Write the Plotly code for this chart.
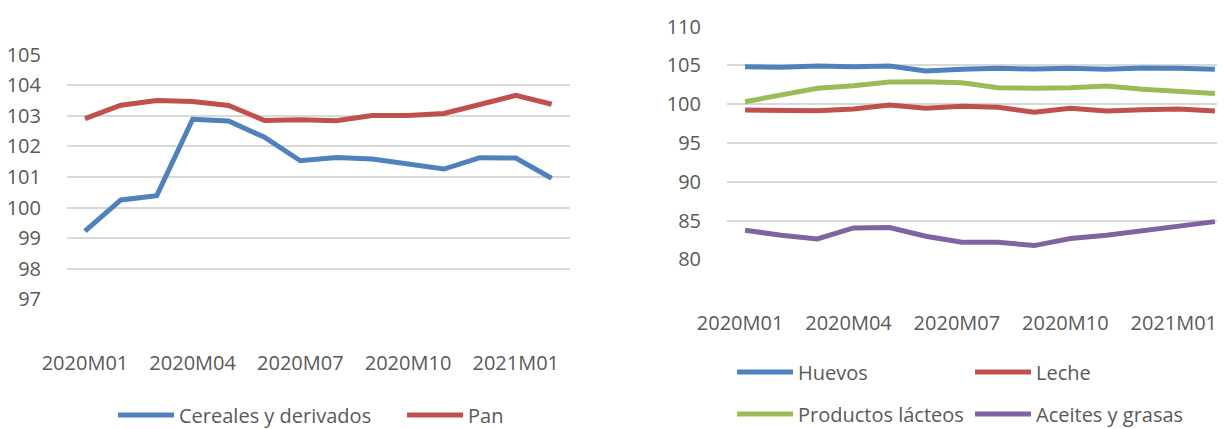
import plotly.graph_objects as go

months = ["2020M01", "2020M02", "2020M03", "2020M04", "2020M05", "2020M06", "2020M07",
          "2020M08", "2020M09", "2020M10", "2020M11", "2020M12", "2021M01", "2021M02"]
tick_labels = ["2020M01", "2020M04", "2020M07", "2020M10", "2021M01"]

cereales = [99.23, 100.25, 100.39, 102.89, 102.83, 102.30, 101.53, 101.64, 101.59,
            101.43, 101.26, 101.63, 101.62, 100.96]
pan = [102.91, 103.35, 103.50, 103.47, 103.34, 102.85, 102.87, 102.84, 103.01,
       103.01, 103.08, 103.37, 103.67, 103.38]

huevos = [104.84, 104.76, 104.93, 104.84, 104.93, 104.28, 104.50, 104.63, 104.54,
          104.63, 104.50, 104.67, 104.63, 104.50]
leche = [99.26, 99.26, 99.17, 99.39, 99.90, 99.47, 99.73, 99.60, 98.96,
         99.47, 99.13, 99.30, 99.39, 99.13]
lacteos = [100.33, 101.19, 102.05, 102.39, 102.87, 102.91, 102.78, 102.14, 102.05,
           102.14, 102.35, 101.92, 101.58, 101.40]
aceites = [83.74, 83.10, 82.63, 84.04, 84.09, 82.97, 82.20, 82.20, 81.77,
           82.67, 83.10, 83.70, 84.30, 84.86]

BLUE, RED, GREEN, PURPLE = "#4F81BD", "#C0504D", "#9BBB59", "#8064A2"
TEXT = "#595959"
GRID = "#D9D9D9"
FONT = "Open Sans"
# page body has an 8px default margin, so the figure is drawn 8px smaller
OFF = 8
W, H = 1225 - OFF, 429 - OFF

def px_x(p):
    return (p - OFF) / W

def px_y(p):
    return (H - (p - OFF)) / H

fig = go.Figure()

def add(x, y, name, color, xa, ya, legend):
    fig.add_trace(go.Scatter(x=x, y=y, name=name, mode="lines",
                             line=dict(color=color, width=5),
                             xaxis=xa, yaxis=ya, legend=legend))

add(months, cereales, "Cereales y derivados", BLUE, "x", "y", "legend")
add(months, pan, "Pan", RED, "x", "y", "legend")
add(months, huevos, "Huevos", BLUE, "x2", "y2", "legend2")
add(months, leche, "Leche", RED, "x2", "y2", "legend2")
add(months, lacteos, "Productos lácteos", GREEN, "x2", "y2", "legend3")
add(months, aceites, "Aceites y grasas", PURPLE, "x2", "y2", "legend3")

tf = dict(family=FONT, size=20, color=TEXT)

xcommon = dict(type="category", categoryorder="array", categoryarray=months,
               tickmode="array", tickvals=tick_labels, ticktext=tick_labels,
               showgrid=False, zeroline=False, showline=False, automargin=False,
               ticks="outside", ticklen=46, tickcolor="rgba(0,0,0,0)",
               tickfont=tf)
ycommon = dict(showgrid=True, gridcolor=GRID, gridwidth=1.5, zeroline=False,
               showline=False, ticks="outside", ticklen=21, automargin=False,
               tickcolor="rgba(0,0,0,0)", tickfont=tf)

legcommon = dict(orientation="h", xanchor="left", yanchor="middle",
                 font=tf, bgcolor="rgba(0,0,0,0)", entrywidthmode="pixels",
                 itemwidth=56, tracegroupgap=0)

fig.update_layout(
    width=W, height=H,
    margin=dict(l=0, r=0, t=0, b=0, autoexpand=False),
    paper_bgcolor="white", plot_bgcolor="white",
    font=tf,
    xaxis=dict(domain=[px_x(67), px_x(569.6)], range=[-0.5, 13.5], anchor="y", **xcommon),
    yaxis=dict(domain=[px_y(299.3), px_y(54.7)], range=[97, 105],
               tickvals=list(range(97, 106)), anchor="x", **ycommon),
    xaxis2=dict(domain=[px_x(727), 1.0], range=[-0.5, 13.28], anchor="y2",
                ticklabelshift=-5, **xcommon),
    yaxis2=dict(domain=[px_y(259.3), px_y(26.7)], range=[80, 110],
                tickvals=list(range(80, 111, 5)), anchor="x2", **ycommon),
    legend=dict(x=px_x(113), y=px_y(415), entrywidth=218, **legcommon),
    legend2=dict(x=px_x(732), y=px_y(372), entrywidth=167, **legcommon),
    legend3=dict(x=px_x(732), y=px_y(414), entrywidth=167, **legcommon),
    showlegend=True,
)

fig.write_html("out.html")
